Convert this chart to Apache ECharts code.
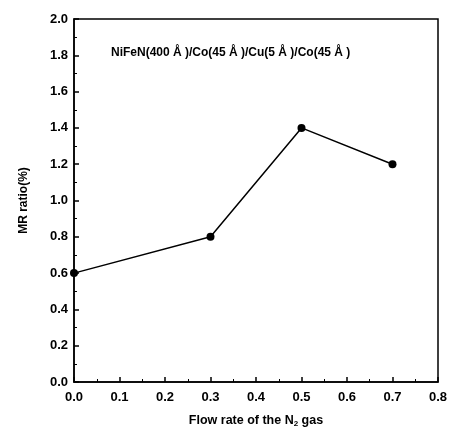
<!DOCTYPE html>
<html>
<head>
<meta charset="utf-8">
<script src="https://cdn.jsdelivr.net/npm/echarts@6/dist/echarts.min.js"></script>
<style>
	html, body { margin: 0; padding: 0; background: #fff; }
	#chart { width: 453px; height: 430px; }
</style>
</head>
<body>
<div id="chart"></div>
<script>
var flowRate = [0.0, 0.3, 0.5, 0.7];
var mrRatio = [0.6, 0.8, 1.4, 1.2];
var sampleLabel = 'NiFeN(400 Å )/Co(45 Å )/Cu(5 Å )/Co(45 Å )';

var font = 'Liberation Sans, Arial, sans-serif';
var chart = echarts.init(document.getElementById('chart'));
var option = {
	animation : false,
	grid : {
		left : 74,
		right : 15,
		top : 19,
		bottom : 48,
		outerBoundsMode : 'none',
		show : true,
		borderColor : '#000',
		borderWidth : 1.5,
		backgroundColor : 'transparent'
	},
	graphic : [{
		type : 'text',
		left : 111,
		top : 47,
		style : {
			text : sampleLabel,
			font : 'bold 12px ' + font,
			fill : '#000'
		}
	}],
	xAxis : {
		type : 'value',
		min : 0,
		max : 0.8,
		interval : 0.1,
		name : 'Flow rate of the N{sub|2} gas',
		nameLocation : 'middle',
		nameGap : 32,
		nameTextStyle : {
			color : '#000',
			fontSize : 12.5,
			fontWeight : 'bold',
			fontFamily : font,
			rich : {
				sub : { fontSize : 8, fontWeight : 'bold', verticalAlign : 'bottom', padding : [6, 0, 0, 0] }
			}
		},
		axisLine : { show : true, onZero : false, lineStyle : { color : '#000', width : 1.5 } },
		axisTick : { show : true, inside : true, length : 5, lineStyle : { color : '#000', width : 1.5 } },
		minorTick : { show : true, splitNumber : 2, length : 3, lineStyle : { color : '#000', width : 1 } },
		axisLabel : {
			color : '#000',
			fontSize : 13,
			fontWeight : 'bold',
			fontFamily : font,
			margin : 9,
			formatter : function (v) { return v.toFixed(1); }
		},
		splitLine : { show : false }
	},
	yAxis : {
		type : 'value',
		min : 0,
		max : 2,
		interval : 0.2,
		name : 'MR ratio(%)',
		nameLocation : 'middle',
		nameGap : 44,
		nameTextStyle : {
			color : '#000',
			fontSize : 12,
			fontWeight : 'bold',
			fontFamily : font
		},
		axisLine : { show : true, onZero : false, lineStyle : { color : '#000', width : 1.5 } },
		axisTick : { show : true, inside : true, length : 5, lineStyle : { color : '#000', width : 1.5 } },
		minorTick : { show : true, splitNumber : 2, length : 3, lineStyle : { color : '#000', width : 1 } },
		axisLabel : {
			color : '#000',
			fontSize : 13,
			fontWeight : 'bold',
			fontFamily : font,
			margin : 6,
			formatter : function (v) { return v.toFixed(1); }
		},
		splitLine : { show : false }
	},
	series : [{
		type : 'line',
		data : flowRate.map(function (x, i) { return [x, mrRatio[i]]; }),
		symbol : 'circle',
		symbolSize : 8,
		lineStyle : { color : '#000', width : 1.5 },
		itemStyle : { color : '#000' }
	}]
};
chart.setOption(option);
</script>
</body>
</html>
